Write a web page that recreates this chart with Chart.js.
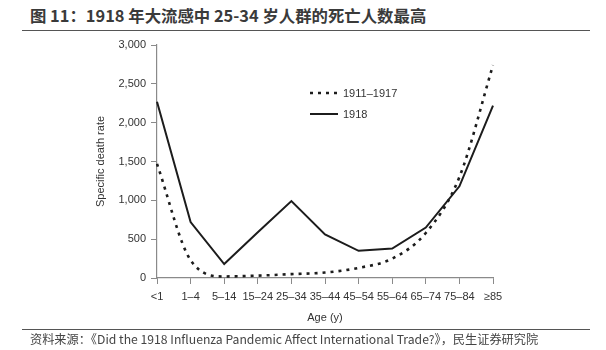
<!DOCTYPE html>
<html>
<head>
<meta charset="utf-8">
<script src="https://cdn.jsdelivr.net/npm/chart.js@4"></script>
<style>
  html, body { margin: 0; padding: 0; background: #fff; }
  #wrap { position: relative; width: 606px; height: 350px; overflow: hidden; }
  #title {
    position: absolute; left: 30px; top: 5px;
    font: bold 16.4px "Noto Sans CJK SC", "Liberation Sans", sans-serif;
    color: #3a3a3a; white-space: nowrap; line-height: 21px;
  }
  #titleRule { position: absolute; left: 22px; top: 30px; width: 568px; height: 0; border-top: 1.5px solid #555; }
  #footRule { position: absolute; left: 22px; top: 329px; width: 568px; height: 0; border-top: 1.5px solid #555; }
  #foot {
    position: absolute; left: 30px; top: 331px;
    font: 12.2px "Noto Sans CJK SC", "Open Sans", sans-serif;
    color: #444; white-space: nowrap; line-height: 17px;
  }
  canvas { position: absolute; left: 0; top: 0; }
</style>
</head>
<body>
<div id="wrap">
  <div id="title">图 11：1918 年大流感中 25-34 岁人群的死亡人数最高</div>
  <div id="titleRule"></div>
  <canvas id="c" width="606" height="350"></canvas>
  <div id="footRule"></div>
  <div id="foot">资料来源：《Did the 1918 Influenza Pandemic Affect International Trade?》，民生证券研究院</div>
</div>
<script>
// Age groups
const ageGroups = ['<1', '1–4', '5–14', '15–24', '25–34', '35–44', '45–54', '55–64', '65–74', '75–84', '≥85'];
// Specific death rate, average of 1911–1917
const rate1911to1917 = [1470, 230, 20, 30, 50, 70, 130, 250, 580, 1300, 2740];
// Specific death rate, 1918
const rate1918 = [2270, 720, 180, 590, 990, 560, 350, 380, 650, 1180, 2220];
// Y axis tick values
const yTicks = [0, 500, 1000, 1500, 2000, 2500, 3000];

const axisFont = { family: '"Liberation Sans", Arial, sans-serif', size: 11 };
const textColor = '#333';
const axisColor = '#8a8a8a';

// Legend drawn inside the plot area, upper middle
const innerLegend = {
  id: 'innerLegend',
  afterDraw(chart) {
    const ctx = chart.ctx;
    const items = chart.data.datasets;
    const x0 = 310, x1 = 338, yStart = 93, step = 21;
    ctx.save();
    ctx.font = '11px "Liberation Sans", Arial, sans-serif';
    ctx.fillStyle = textColor;
    ctx.textBaseline = 'middle';
    items.forEach((ds, i) => {
      const y = yStart + i * step;
      ctx.beginPath();
      ctx.strokeStyle = ds.borderColor;
      ctx.lineWidth = ds.borderWidth;
      ctx.setLineDash(ds.borderDash || []);
      ctx.moveTo(x0, y);
      ctx.lineTo(x1, y);
      ctx.stroke();
      ctx.setLineDash([]);
      ctx.fillText(ds.label, x1 + 5, y + 0.5);
    });
    ctx.restore();
  }
};

new Chart(document.getElementById('c'), {
  type: 'line',
  data: {
    labels: ageGroups,
    datasets: [
      {
        label: '1911–1917',
        data: rate1911to1917,
        borderColor: '#1c1c1c',
        borderWidth: 2.6,
        borderDash: [3, 5],
        cubicInterpolationMode: 'monotone',
        pointRadius: 0,
        fill: false
      },
      {
        label: '1918',
        data: rate1918,
        borderColor: '#1c1c1c',
        borderWidth: 2,
        tension: 0,
        pointRadius: 0,
        fill: false
      }
    ]
  },
  options: {
    responsive: false,
    animation: false,
    devicePixelRatio: 1,
    layout: { padding: { left: 94, top: 45, right: 113, bottom: 25 } },
    plugins: { legend: { display: false }, tooltip: { enabled: false } },
    scales: {
      x: {
        offset: false,
        grid: { drawOnChartArea: false, drawTicks: true, tickLength: 6, color: axisColor, lineWidth: 1 },
        border: { display: true, color: axisColor, width: 1.2 },
        ticks: { color: textColor, font: axisFont, padding: 6, maxRotation: 0, autoSkip: false },
        title: { display: true, text: 'Age (y)', color: textColor, font: axisFont, padding: { top: 4, bottom: 0 } },
        afterFit(scale) { scale.height = 47; }
      },
      y: {
        min: 0,
        max: 3000,
        afterBuildTicks(scale) { scale.ticks = yTicks.map(v => ({ value: v })); },
        grid: { drawOnChartArea: false, drawTicks: true, tickLength: 6, color: axisColor, lineWidth: 1 },
        border: { display: true, color: axisColor, width: 1.2 },
        ticks: {
          color: textColor, font: axisFont, padding: 5,
          callback: v => v.toLocaleString('en-US')
        },
        title: { display: true, text: 'Specific death rate', color: textColor, font: axisFont, padding: { top: 0, bottom: 0 } },
        afterFit(scale) { scale.width = 63; }
      }
    }
  },
  plugins: [innerLegend]
});
</script>
</body>
</html>
